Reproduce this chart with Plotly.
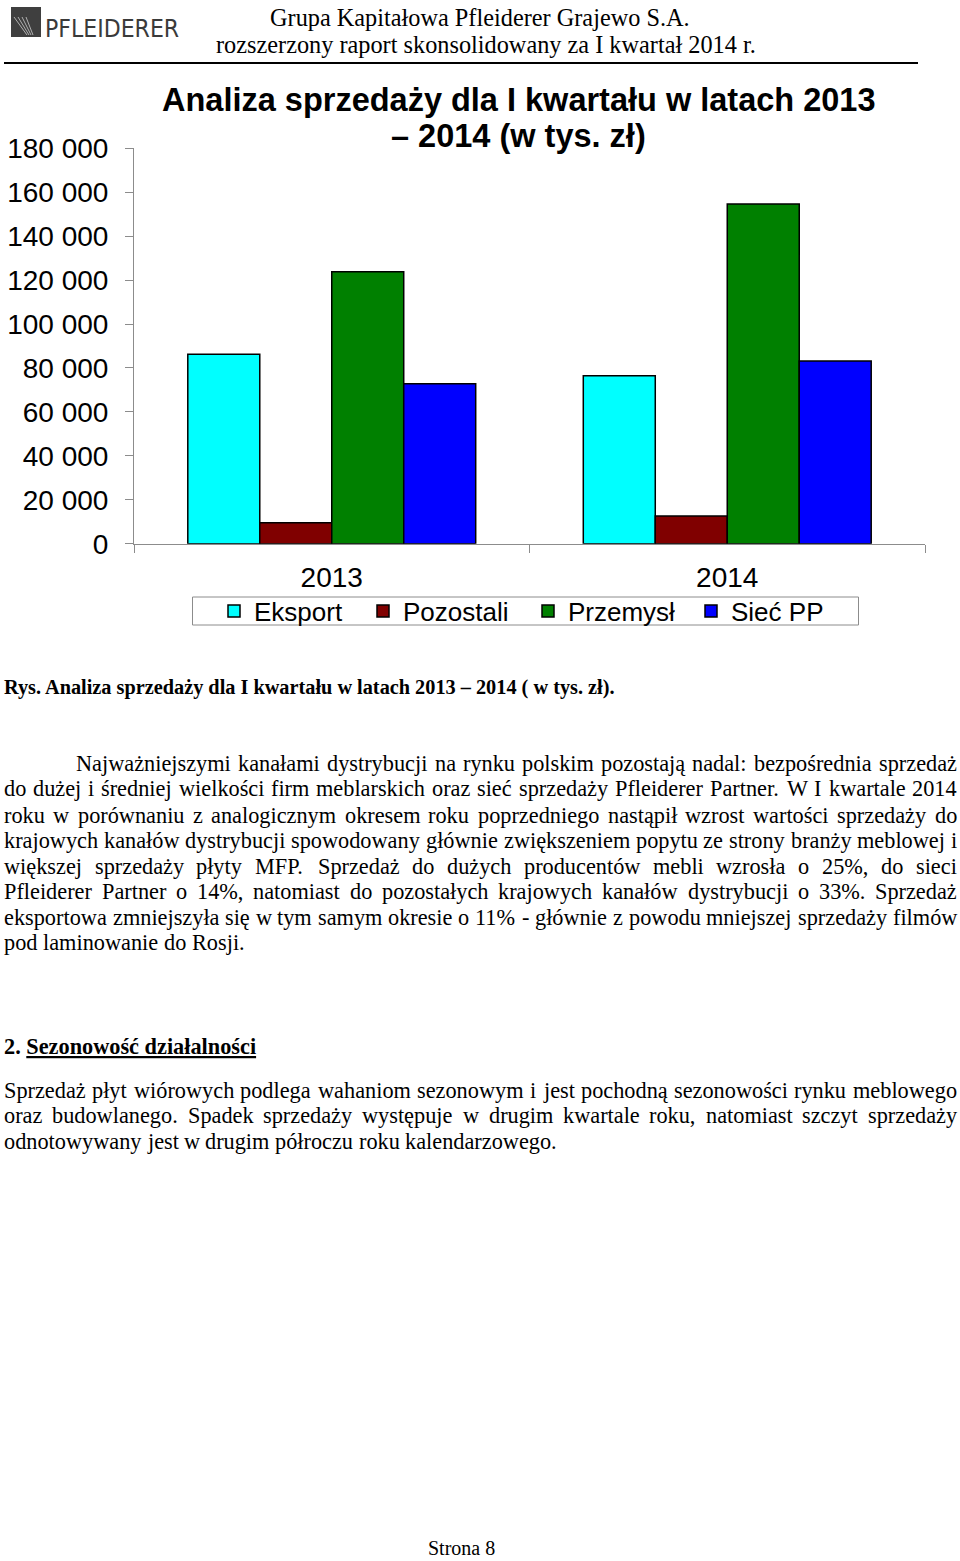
import plotly.graph_objects as go

W, H = 960, 1561

# ---------------- chart data ----------------
years = ["2013", "2014"]
series_names = ["Eksport", "Pozostali", "Przemysł", "Sieć PP"]
eksport = [86300, 76400]
pozostali = [9500, 12600]
przemysl = [123800, 154600]
siec_pp = [72800, 83200]
series_colors = ["#00FFFF", "#800000", "#008000", "#0000FF"]
y_tick_vals = [0, 20000, 40000, 60000, 80000, 100000, 120000, 140000, 160000, 180000]
y_tick_labels = ["0", "20 000", "40 000", "60 000", "80 000", "100 000",
                 "120 000", "140 000", "160 000", "180 000"]
chart_title_lines = ["Analiza sprzedaży dla I kwartału w latach 2013", "– 2014 (w tys. zł)"]

# ---------------- page text ----------------
header_lines = ["Grupa Kapitałowa Pfleiderer Grajewo S.A.",
                "rozszerzony raport skonsolidowany za I kwartał 2014 r."]
caption = "Rys. Analiza sprzedaży dla I kwartału w latach 2013 – 2014 ( w tys. zł)."
para1 = [
    "Najważniejszymi kanałami dystrybucji na rynku polskim pozostają nadal: bezpośrednia sprzedaż",
    "do dużej i średniej wielkości firm meblarskich oraz sieć sprzedaży Pfleiderer Partner. W I kwartale 2014",
    "roku w porównaniu z analogicznym okresem roku poprzedniego nastąpił wzrost wartości sprzedaży do",
    "krajowych kanałów dystrybucji spowodowany głównie zwiększeniem popytu ze strony branży meblowej i",
    "większej sprzedaży płyty MFP. Sprzedaż do dużych producentów mebli wzrosła o 25%, do sieci",
    "Pfleiderer Partner o 14%, natomiast do pozostałych krajowych kanałów dystrybucji o 33%. Sprzedaż",
    "eksportowa zmniejszyła się w tym samym okresie o 11% - głównie z powodu mniejszej sprzedaży filmów",
    "pod laminowanie do Rosji.",
]
heading_num = "2."
heading_text = "Sezonowość działalności"
para2 = [
    "Sprzedaż płyt wiórowych podlega wahaniom sezonowym i jest pochodną sezonowości rynku meblowego",
    "oraz budowlanego. Spadek sprzedaży występuje w drugim kwartale roku, natomiast szczyt sprzedaży",
    "odnotowywany jest w drugim półroczu roku kalendarzowego.",
]
footer = "Strona 8"


def px(x):
    return x / W


def py(y):
    return 1 - y / H


SERIF = "Liberation Serif, Times New Roman, serif"
SANS = "Liberation Sans, Arial, sans-serif"

# Times New Roman / Liberation Serif advance widths (1/1000 em)
TW = {' ': 250, '.': 250, ',': 250, ':': 278, '%': 833, '-': 333, '(': 333, ')': 333, '–': 500,
      'a': 444, 'b': 500, 'c': 444, 'd': 500, 'e': 444, 'f': 333, 'g': 500, 'h': 500, 'i': 278,
      'j': 278, 'k': 500, 'l': 278, 'm': 778, 'n': 500, 'o': 500, 'p': 500, 'q': 500, 'r': 333,
      's': 389, 't': 278, 'u': 500, 'v': 500, 'w': 722, 'x': 500, 'y': 500, 'z': 444,
      'A': 722, 'B': 667, 'C': 667, 'D': 722, 'E': 611, 'F': 556, 'G': 722, 'H': 722, 'I': 333,
      'J': 389, 'K': 722, 'L': 611, 'M': 889, 'N': 722, 'O': 722, 'P': 556, 'Q': 722, 'R': 667,
      'S': 556, 'T': 611, 'U': 722, 'V': 722, 'W': 944, 'X': 722, 'Y': 722, 'Z': 611,
      'ą': 444, 'ć': 444, 'ę': 444, 'ł': 278, 'ń': 500, 'ó': 500, 'ś': 389, 'ź': 444, 'ż': 444}
for d in "0123456789":
    TW[d] = 500


def tw(s, size):
    return sum(TW.get(c, 500) for c in s) * size / 1000.0


BODY = 22.3
annotations = []


def text_ann(text, x, y, size, family=SERIF, anchor="left", color="black"):
    annotations.append(dict(x=px(x), y=py(y), xref="paper", yref="paper", text=text,
                            showarrow=False, xanchor=anchor, yanchor="middle",
                            borderpad=0, borderwidth=0,
                            font=dict(family=family, size=size, color=color)))


def paragraph(lines, ys, first_indent, left=4, right=957):
    for i, (line, y) in enumerate(zip(lines, ys)):
        x0 = first_indent if i == 0 else left
        words = line.split(" ")
        widths = [tw(w, BODY) for w in words]
        last = (i == len(lines) - 1)
        if last or len(words) < 2:
            gap = tw(" ", BODY)
        else:
            gap = (right - x0 - sum(widths)) / (len(words) - 1)
        x = x0
        for w, wd in zip(words, widths):
            text_ann(w, x, y, BODY)
            x += wd + gap


# header
text_ann(header_lines[0], 480, 17, 24.3, anchor="center")
text_ann(header_lines[1], 486, 45, 24.3, anchor="center")
text_ann("PFLEIDERER", 45, 28, 24.5,
         family="Liberation Sans Narrow, Arial Narrow, DejaVu Sans Condensed, sans-serif",
         color="#3a3a3a")

# chart title
text_ann("<b>%s</b>" % chart_title_lines[0], 519, 100, 32.5, family=SANS, anchor="center")
text_ann("<b>%s</b>" % chart_title_lines[1], 518, 136, 32.5, family=SANS, anchor="center")

# caption, body
text_ann("<b>%s</b>" % caption, 4, 687, 20.3)
paragraph(para1, [763, 789, 815, 840, 866, 891, 917, 942], 76)
text_ann("<b>%s <u>%s</u></b>" % (heading_num, heading_text), 4, 1046, BODY)
paragraph(para2, [1090, 1115, 1141], 4)
text_ann(footer, 461, 1548, 20, anchor="center")

# ---------------- figure ----------------
legend_widths = [104, 120, 118, 100]
fig = go.Figure()
for name, vals, col, lw in zip(series_names, [eksport, pozostali, przemysl, siec_pp],
                               series_colors, legend_widths):
    fig.add_trace(go.Bar(x=years, y=vals, name=name, legendwidth=lw,
                         marker=dict(color=col, line=dict(color="#000000", width=1.5))))

shapes = [
    # header rule
    dict(type="line", xref="paper", yref="paper", x0=px(4), x1=px(918), y0=py(63), y1=py(63),
         line=dict(color="black", width=2)),
    # legend frame
    dict(type="rect", xref="paper", yref="paper", x0=px(192.5), x1=px(858.5), y0=py(597), y1=py(625),
         line=dict(color="#8c8c8c", width=1)),
    # logo square
    dict(type="rect", xref="paper", yref="paper", x0=px(11), x1=px(41), y0=py(7), y1=py(37),
         fillcolor="#3f3f3f", line=dict(width=0)),
]
for k in range(4):
    shapes.append(dict(type="line", xref="paper", yref="paper",
                       x0=px(14 + 4 * k), y0=py(17), x1=px(27 + 2 * k), y1=py(35),
                       line=dict(color="#b0b0b0", width=1)))

fig.update_layout(
    width=W, height=H, autosize=False,
    margin=dict(l=0, r=0, t=0, b=0, pad=0, autoexpand=False),
    paper_bgcolor="white", plot_bgcolor="white",
    barmode="group", bargap=0.272, bargroupgap=0,
    font=dict(family=SANS, color="black"),
    showlegend=True,
    legend=dict(orientation="h", x=px(214), xanchor="left", y=py(611), yanchor="middle",
                bgcolor="rgba(0,0,0,0)", borderwidth=0, font=dict(family=SANS, size=26),
                traceorder="normal"),
    xaxis=dict(domain=[px(134), px(925)], type="category", range=[-0.5, 1.5],
               showline=True, linecolor="#8c8c8c", linewidth=1,
               ticks="outside", tickson="boundaries", ticklen=8, tickcolor="#8c8c8c",
               tickfont=dict(family=SANS, size=28), ticklabelstandoff=9,
               showgrid=False, fixedrange=True),
    yaxis=dict(domain=[py(543.7), py(148.3)], range=[0, 180000],
               showline=True, linecolor="#8c8c8c", linewidth=1,
               ticks="outside", ticklen=8, tickcolor="#8c8c8c",
               tickvals=y_tick_vals, ticktext=y_tick_labels,
               tickfont=dict(family=SANS, size=28), ticklabelstandoff=11,
               showgrid=False, zeroline=False, fixedrange=True),
    shapes=shapes,
    annotations=annotations,
)

fig.write_html("out.html", config={"displayModeBar": False})
